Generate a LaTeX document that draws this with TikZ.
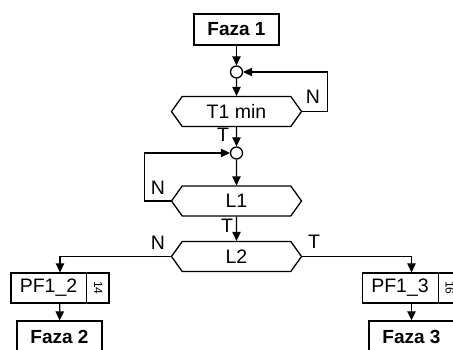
\documentclass[tikz,border=0pt]{standalone}
\usepackage{fontspec}
\setmainfont{Liberation Sans}
\usetikzlibrary{shapes.symbols,arrows.meta,positioning}

\begin{document}
\begin{tikzpicture}[
    x=1pt, y=-1pt,
    every node/.style={font=\fontsize{19.5}{22}\selectfont},
    phase/.style={draw, line width=1.4pt, minimum width=85pt, minimum height=31pt, inner sep=0pt, font=\fontsize{19}{22}\selectfont\bfseries},
    cond/.style={draw, line width=1.3pt, signal, signal to=west and east, signal pointer angle=109, minimum width=130pt, minimum height=30pt, inner sep=0pt},
    junc/.style={draw, circle, line width=1.3pt, minimum size=12pt, inner sep=0pt},
    proc/.style={draw, line width=1.3pt, minimum width=98pt, minimum height=30pt, inner sep=0pt},
    num/.style={font=\fontsize{12}{13}\selectfont, rotate=-90, inner sep=0pt},
    lbl/.style={inner sep=1.5pt},
    arr/.style={-{Triangle[length=9pt,width=8.5pt]}, line width=1.3pt}
]
    \clip (0,0) rectangle (453,350);

    % main column
    \node[phase] (f1) at (236.5,29.5) {Faza 1};
    \node[junc] (j1) at (236.5,72) {};
    \node[cond] (t1) at (236.5,111.5) {T1 min};
    \node[junc] (j2) at (236.5,153) {};
    \node[cond] (l1) at (236.5,201) {L1};
    \node[cond] (l2) at (236.5,256.5) {L2};

    % branch boxes
    \node[proc] (pf12) at (60,288) {};
    \node at ([xshift=-11.5pt]pf12.center) {PF1\_2};
    \draw[line width=1.3pt] ([xshift=-23pt]pf12.north east) -- ([xshift=-23pt]pf12.south east);
    \node[num] (n12) at ([xshift=-11.5pt]pf12.east) {14};
    \node[phase] (f2) at (59.5,336.5) {Faza 2};

    \node[proc] (pf13) at (411.5,288) {};
    \node at ([xshift=-11.5pt]pf13.center) {PF1\_3};
    \draw[line width=1.3pt] ([xshift=-23pt]pf13.north east) -- ([xshift=-23pt]pf13.south east);
    \node[num] (n13) at ([xshift=-11.5pt]pf13.east) {16};
    \node[phase] (f3) at (411.5,336.5) {Faza 3};

    % connectors
    \draw[arr] (f1) -- (j1);
    \draw[arr] (j1) -- (t1);
    \draw[arr] (t1.east) -- +(25,0) |- (j1.east);
    \node[lbl] at (313,97) {N};
    \draw[arr] (t1) -- (j2);
    \node[lbl] at (223,135) {T};
    \draw[arr] (j2) -- (l1);
    \draw[arr] (l1.west) -- +(-26,0) |- (j2.west);
    \node[lbl] at (158,188) {N};
    \draw[arr] (l1) -- (l2);
    \node[lbl] at (227,226) {T};
    \draw[arr] (l2.west) -| (pf12.north);
    \node[lbl] at (158,243) {N};
    \draw[arr] (l2.east) -| (pf13.north);
    \node[lbl] at (314,242) {T};
    \draw[arr] (pf12) -- (f2);
    \draw[arr] (pf13) -- (f3);
\end{tikzpicture}
\end{document}
